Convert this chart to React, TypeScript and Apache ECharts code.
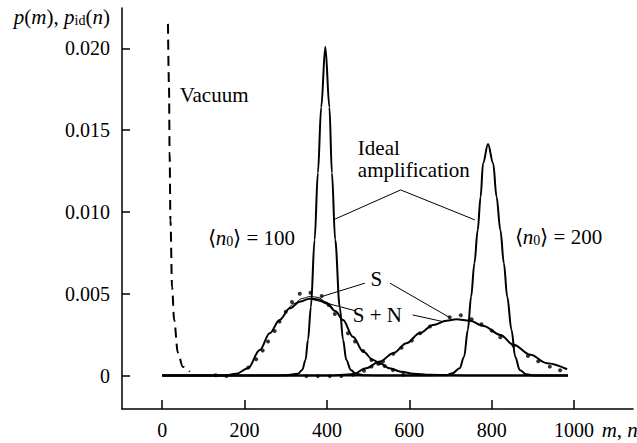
import React, { useEffect, useRef } from "react";
import * as echarts from "echarts";

const FONT = "Liberation Serif";

const xTicks = [0, 200, 400, 600, 800, 1000];
const yTicks = [0, 0.005, 0.01, 0.015, 0.02];

const vacuum: [number, number][] = [
  [14, 0.0215], [16.5, 0.0177], [18, 0.0136], [20, 0.0095], [24, 0.0054],
  [29, 0.0034], [38, 0.0014], [50, 0.00055], [67, 0.00024],
];

const ideal100: [number, number][] = [
  [0, 0], [250, 0], [300, 0.00002], [330, 0.00012], [340, 0.00035], [348, 0.00096],
  [354, 0.0022], [361, 0.0042], [370, 0.0083], [378, 0.0124], [386, 0.0164],
  [396, 0.0201], [406, 0.0164], [412, 0.0124], [420, 0.0083], [431, 0.0042],
  [439, 0.0022], [447, 0.00096], [458, 0.00035], [470, 0.00012], [490, 0.00002],
  [560, 0], [985, 0],
];

const ideal200: [number, number][] = [
  [0, 0], [600, 0], [690, 0.00002], [705, 0.00015], [722, 0.00045], [733, 0.00116],
  [742, 0.0028], [750, 0.00483], [758, 0.00687], [766, 0.0089], [773, 0.01094],
  [779, 0.01298], [791, 0.01416], [803.5, 0.01298], [811.7, 0.01094], [821, 0.0089],
  [829.5, 0.00687], [837.6, 0.00483], [848, 0.0028], [857, 0.00116], [868, 0.00035],
  [884, 0.00008], [905, 0], [985, 0],
];

const curve100: [number, number][] = [
  [0, 0], [150, 0], [180, 0.00012], [208, 0.00045], [237, 0.00157], [261, 0.00259],
  [285, 0.0034], [310, 0.00412], [334, 0.00452], [358, 0.0047], [378, 0.00466],
  [400, 0.0044], [420, 0.00395], [439, 0.0034], [463, 0.00238], [488, 0.00147],
  [512, 0.00096], [528, 0.00076], [552, 0.00045], [580, 0.00024], [610, 0.00012],
  [650, 0.00005], [700, 0.00002], [780, 0], [985, 0],
];

const curve100b: [number, number][] = [
  [300, 0.00385], [320, 0.0044], [340, 0.00472], [360, 0.00484], [378, 0.00478],
  [398, 0.0045], [415, 0.0041],
];

const curve200: [number, number][] = [
  [0, 0], [400, 0], [463, 0.00009], [495, 0.00045], [528, 0.00086], [561, 0.00137],
  [593, 0.00198], [625, 0.00259], [658, 0.0031], [690, 0.00336], [714, 0.00345],
  [747, 0.00336], [780, 0.00304], [821, 0.00249], [853, 0.00188], [894, 0.00127],
  [934, 0.00076], [983, 0.00039],
];

const dots100: [number, number][] = [
  [130, 0.00002], [156, -0.00002], [209, 0.0005], [228, 0.001], [244, 0.00153],
  [257, 0.00208], [273, 0.00273], [285, 0.0033], [300, 0.00391], [315, 0.0045],
  [334, 0.005], [360, 0.00507], [387, 0.00487], [404, 0.00432], [419, 0.00377],
  [451, 0.00259], [468, 0.00208], [488, 0.00151], [508, 0.00096], [528, 0.00076],
  [540, 0.00059], [560, 0.00035], [585, 0.00005],
];

const dots200: [number, number][] = [
  [350, -0.00003], [378, -0.00003], [407, -0.00003], [435, -0.00002], [463, 0.00005],
  [490, 0.0003], [508, 0.00055], [524, 0.00072], [536, 0.00086], [561, 0.00133],
  [581, 0.00171], [606, 0.00214], [626, 0.00259], [650, 0.003], [698, 0.00357],
  [725, 0.00369], [751, 0.00345], [775, 0.00314], [800, 0.00275], [821, 0.00235],
  [853, 0.00182], [888, 0.0012], [913, 0.00088], [941, 0.00055], [966, 0.00033],
];

// annotation leader lines, in data coordinates
const leaders: [number, number][][] = [
  [[579, 0.01135], [419, 0.00956]],
  [[579, 0.01135], [759, 0.00952]],
  [[492, 0.00565], [387, 0.00483]],
  [[553, 0.00565], [698, 0.00355]],
  [[468, 0.00397], [363, 0.00467]],
  [[608, 0.00371], [682, 0.0033]],
];

const labelTexts = [
  "{i|p}({i|m}), {i|p}{sub|id}({i|n})",
  "Vacuum",
  "Ideal",
  "amplification",
  "⟨{i|n}{sub|0}⟩ = 100",
  "⟨{i|n}{sub|0}⟩ = 200",
  "S",
  "S + N",
  "{i|m}, {i|n}",
];
const labelAnchors: [number, number][] = [
  [-127, 0.02195], [42.5, 0.01716], [475, 0.01392], [475, 0.01257],
  [110.5, 0.00842], [856, 0.00848], [520, 0.00589], [462.7, 0.00371], [1067, -0.00332],
];
const labelAligns = ["right", "left", "left", "left", "left", "left", "center", "left", "left"];

export default function App() {
  const ref = useRef<HTMLDivElement>(null);
  useEffect(() => {
    const chart = echarts.init(ref.current!, undefined, { renderer: "svg" });
    const lineSeries = (data: [number, number][], width: number, type: any = "solid") => ({
      type: "line",
      data,
      showSymbol: false,
      smooth: 0.35,
      smoothMonotone: "x",
      silent: true,
      lineStyle: { color: "#000", width, type },
    });
    const dotSeries = (data: [number, number][]) => ({
      type: "scatter",
      data,
      symbolSize: 4,
      silent: true,
      itemStyle: { color: "#000" },
    });
    chart.setOption({
      animation: false,
      backgroundColor: "#fff",
      grid: { left: 122, right: 4, top: 8, bottom: 34 },
      xAxis: {
        type: "value",
        min: -97.6,
        max: 1143,
        axisLine: { onZero: false, lineStyle: { color: "#000", width: 1.5 } },
        axisTick: { inside: true, length: 9, customValues: xTicks, lineStyle: { color: "#000", width: 1.5 } },
        axisLabel: {
          customValues: xTicks,
          margin: 11,
          color: "#000",
          fontFamily: FONT,
          fontSize: 20,
          formatter: (v: number) => String(Math.round(v)),
        },
        splitLine: { show: false },
      },
      yAxis: {
        type: "value",
        min: -0.00204,
        max: 0.02247,
        axisLine: { show: true, onZero: false, lineStyle: { color: "#000", width: 1.5 } },
        axisTick: { show: true, inside: true, length: 8, customValues: yTicks, lineStyle: { color: "#000", width: 1.5 } },
        axisLabel: {
          customValues: yTicks,
          margin: 12,
          color: "#000",
          fontFamily: FONT,
          fontSize: 20,
          formatter: (v: number) => (Math.abs(v) < 1e-9 ? "0" : v.toFixed(3)),
        },
        splitLine: { show: false },
      },
      series: [
        lineSeries(vacuum, 2, [10, 6]),
        lineSeries(ideal100, 2),
        lineSeries(ideal200, 2),
        lineSeries(curve100, 2),
        lineSeries(curve100b, 1),
        lineSeries(curve200, 2),
        dotSeries(dots100),
        dotSeries(dots200),
      ],
    });
    const px = (p: [number, number]) => chart.convertToPixel({ gridIndex: 0 }, p) as number[];
    const rich = {
      i: { fontStyle: "italic", fontFamily: FONT, fontSize: 21, fill: "#000" },
      sub: { fontFamily: FONT, fontSize: 14, fill: "#000", verticalAlign: "bottom", padding: [8, 0, 0, 0] },
    };
    const graphics: any[] = [];
    leaders.forEach((seg) => {
      const a = px(seg[0]);
      const b = px(seg[1]);
      graphics.push({
        type: "line",
        silent: true,
        shape: { x1: a[0], y1: a[1], x2: b[0], y2: b[1] },
        style: { stroke: "#000", lineWidth: 1 },
      });
    });
    labelTexts.forEach((t, k) => {
      const p = px(labelAnchors[k]);
      graphics.push({
        type: "text",
        silent: true,
        x: p[0],
        y: p[1],
        style: {
          text: t,
          rich,
          fontFamily: FONT,
          fontSize: 21,
          fill: "#000",
          align: labelAligns[k],
          verticalAlign: "middle",
        },
      });
    });
    chart.setOption({ graphic: graphics });
    return () => chart.dispose();
  }, []);
  return (
    <div
      ref={ref}
      style={{ position: "fixed", left: 0, top: 0, width: 637, height: 443, background: "#fff" }}
    />
  );
}
